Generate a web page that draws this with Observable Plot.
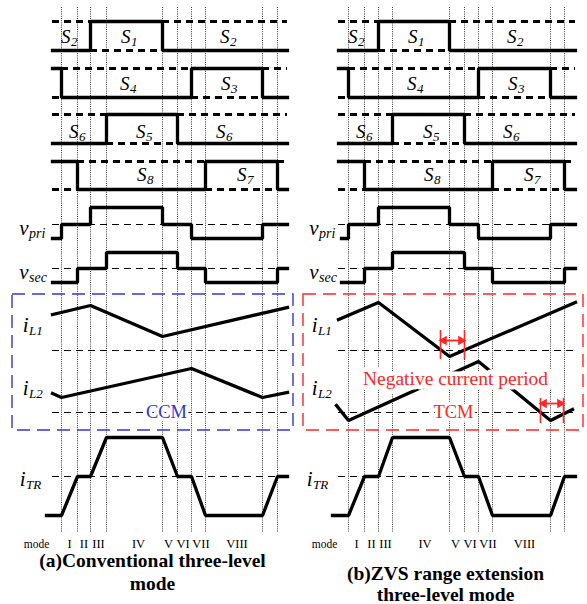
<!DOCTYPE html>
<html><head><meta charset="utf-8">
<script src="https://cdn.jsdelivr.net/npm/d3@7"></script>
<script src="https://cdn.jsdelivr.net/npm/@observablehq/plot@0.6"></script>
<style>
body{margin:0;background:#fff;}
#wrap{display:flex;width:587px;height:604px;overflow:hidden;}
#wrap svg{display:block;}
</style></head><body><div id="wrap"></div>
<script>
// ---------------- DATA ----------------
const modeNames = ["I","II","III","IV","V","VI","VII","VIII"];
// switching instants (time units) of the two panels
const timesA = [0,16,29,45,101,116,130,144,201,216];
const timesB = [0,16,30,44,101,116,130,144,202,216];
// gate signals: initial level and indices of switching instants where they toggle
const gateInit = [0,1,0,1];
const gateToggles = [[2,4],[0,6,8],[3,5],[1,7,9]];
const gateLabels = [
  [["S","2",9],["S","1",69],["S","2",168]],
  [["S","4",68],["S","3",169]],
  [["S","6",17],["S","5",84],["S","6",164]],
  [["S","8",85],["S","7",185]]
];
// three-level voltages: [instant index, new level]
const vpriInit = -1, vpriSteps = [[0,0],[2,1],[4,0],[6,-1],[8,0]];
const vsecInit = -1, vsecSteps = [[1,0],[3,1],[5,0],[7,-1],[9,0]];
// transformer current corners: [instant index, level]
const itrInit = -1, itrCorners = [[0,-1],[1,0],[2,0],[3,1],[4,1],[5,0],[6,0],[7,-1],[8,-1],[9,0]];
// inductor currents (time, value)
const iL1A_t = [-9,29,101,226],     iL1A_v = [36,45,14,43];
const iL2A_t = [-9,0,130,201,226],  iL2A_v = [19,15,44,15,20];
const iL1B_t = [-10,30,101,227],    iL1B_v = [31,48,-6,48];
const iL2B_t = [-12,0,130,202,224], iL2B_v = [7,-8,51,-8,3];
// negative current period markers (start, end time)
const negPeriods = [[92,116],[192,215]];

// ---------------- LAYOUT ----------------
const GATE_ROWS = [{lo:50,hi:21,ly:36},{lo:97,hi:68,ly:83},{lo:143,hi:114,ly:131},{lo:189,hi:161,ly:174}];
const VPRI = {mid:224, hi:207, lo:238, ly:228};
const VSEC = {mid:268, hi:252, lo:282, ly:272};
const IL1 = {zero:350, ly:325};
const IL2 = {zero:412, ly:388};
const ITR = {mid:476, hi:437, lo:515, ly:479};
const MODE_NUDGE = [0,0,0,4,-1.5,-1.5,2.5,3];
const SERIF = "Liberation Serif, Times New Roman, serif";
const RED = "#ff2626", BLUE = "#3434d2";

function steps(init, changes, t0, t1) {
  const pts = [{t:t0, l:init}], iv = [];
  let cur = init, a = t0;
  for (const [t, l] of changes) {
    pts.push({t, l:cur}); pts.push({t, l});
    iv.push({a, b:t, l:cur});
    cur = l; a = t;
  }
  pts.push({t:t1, l:cur});
  iv.push({a, b:t1, l:cur});
  return {pts, iv};
}
const lev3 = (row, l) => l > 0 ? row.hi : l < 0 ? row.lo : row.mid;

function subLabel(items, opts) {
  const base = {fontFamily: SERIF, fontStyle: "italic", fill: "#000"};
  return [
    Plot.text(items, {...base, x:"t", y:"y", text:"main", textAnchor:"end", fontSize: opts.main}),
    Plot.text(items, {...base, x:"t", y:"y", text:"sub", textAnchor:"start", fontSize: opts.sub, dy: opts.dy, dx: 0.5})
  ];
}

function panel(cfg) {
  const T = cfg.times;
  const marks = [];
  const thick = {stroke:"#000", strokeWidth:3.3, strokeLinejoin:"miter", strokeLinecap:"square"};
  const midDash = {stroke:"#000", strokeWidth:1.1, strokeDasharray:"7,5"};

  // dotted instants
  marks.push(Plot.ruleX(T, {x: d => d, y1: 7, y2: 532, stroke:"#222", strokeWidth:0.9, strokeDasharray:"1,1.2"}));

  // gate rows
  gateInit.forEach((init, i) => {
    const row = GATE_ROWS[i];
    let l = init;
    const ch = gateToggles[i].map(k => { l = 1 - l; return [T[k], l]; });
    const s = steps(init, ch, cfg.tStart, cfg.tEnd);
    marks.push(Plot.ruleY(s.iv, {y: d => d.l ? row.lo : row.hi, x1:"a", x2:"b", stroke:"#000", strokeWidth:3, strokeDasharray:"7,5"}));
    marks.push(Plot.line(s.pts, {x:"t", y: d => d.l ? row.hi : row.lo, ...thick}));
    marks.push(...subLabel(gateLabels[i].map(([m, sb, t]) => ({main:m, sub:sb, t, y:row.ly})), {main:19, sub:13, dy:5}));
  });

  // voltages
  for (const [row, init, st, name] of [[VPRI, vpriInit, vpriSteps, "pri"], [VSEC, vsecInit, vsecSteps, "sec"]]) {
    marks.push(Plot.ruleY([row.mid], {y: d => d, x1: cfg.tStart, x2: cfg.tEnd, ...midDash}));
    const s = steps(init, st.map(([k, l]) => [T[k], l]), cfg.vStart, cfg.tEnd);
    marks.push(Plot.line(s.pts, {x:"t", y: d => lev3(row, d.l), ...thick}));
    marks.push(...subLabel([{main:"v", sub:name, t:cfg.labelV, y:row.ly}], {main:21, sub:14, dy:5}));
  }

  // regime box
  marks.push(Plot.rect([cfg.box], {x1:"x1", x2:"x2", y1:"y1", y2:"y2", fill:"none", stroke:cfg.boxColor, strokeWidth:1.4, strokeDasharray:"13,7"}));

  // inductor currents
  marks.push(Plot.ruleY([IL1.zero, IL2.zero], {y: d => d, x1: cfg.tStart, x2: cfg.tEnd, ...midDash}));
  const il1 = cfg.iL1t.map((t, j) => ({t, v: cfg.iL1v[j]}));
  const il2 = cfg.iL2t.map((t, j) => ({t, v: cfg.iL2v[j]}));
  marks.push(Plot.line(il1, {x:"t", y: d => IL1.zero - d.v, ...thick}));
  marks.push(Plot.line(il2, {x:"t", y: d => IL2.zero - d.v, ...thick}));
  marks.push(...subLabel([{main:"i", sub:"L1", t:cfg.labelI, y:IL1.ly}, {main:"i", sub:"L2", t:cfg.labelI, y:IL2.ly}], {main:21, sub:13, dy:5}));

  // regime label with white halo
  const reg = [{text: cfg.regime, t: cfg.regimeT, y: IL2.zero}];
  marks.push(Plot.text(reg, {x:"t", y:"y", text:"text", fontFamily:SERIF, fontSize:18.5, fill:"white", stroke:"white", strokeWidth:7}));
  marks.push(Plot.text(reg, {x:"t", y:"y", text:"text", fontFamily:SERIF, fontSize:18.5, fill:cfg.boxColor}));

  // negative current markers
  if (cfg.neg) {
    const note = [{text:"Negative current period", t:107, y:378}];
    marks.push(Plot.text(note, {x:"t", y:"y", text:"text", fontFamily:SERIF, fontSize:19.5, fill:"white", stroke:"white", strokeWidth:9}));
    marks.push(Plot.text(note, {x:"t", y:"y", text:"text", fontFamily:SERIF, fontSize:19.5, fill:RED}));
    const mk = negPeriods.map(([a, b], j) => ({a, b, y1: j ? 398 : 330, y2: j ? 423 : 359, ya: j ? 403 : 340}));
    marks.push(Plot.ruleX(mk.flatMap(d => [{x:d.a, ...d}, {x:d.b, ...d}]), {x:"x", y1:"y1", y2:"y2", stroke:RED, strokeWidth:1.6}));
    marks.push(Plot.ruleY(mk, {y:"ya", x1: d => d.a + 2, x2: d => d.b - 2, stroke:RED, strokeWidth:1.8}));
    marks.push(Plot.dot(mk, {x: d => d.a + 3.5, y:"ya", symbol:"triangle", r:3.6, fill:RED, rotate:-90}));
    marks.push(Plot.dot(mk, {x: d => d.b - 3.5, y:"ya", symbol:"triangle", r:3.6, fill:RED, rotate:90}));
  }

  // transformer current
  marks.push(Plot.ruleY([ITR.mid], {y: d => d, x1: cfg.tStart, x2: cfg.tEnd, ...midDash}));
  const tr = [{t: cfg.trStart, l: itrInit}, ...itrCorners.map(([k, l]) => ({t: T[k], l})), {t: cfg.tEnd, l: 0}];
  marks.push(Plot.line(tr, {x:"t", y: d => lev3(ITR, d.l), ...thick}));
  marks.push(...subLabel([{main:"i", sub:"TR", t:cfg.labelTR, y:ITR.ly}], {main:21, sub:13, dy:5}));

  // mode row
  const modes = modeNames.map((m, j) => ({m, t: (T[j] + T[j+1]) / 2 + MODE_NUDGE[j]}));
  marks.push(Plot.text(modes, {x:"t", y: 543, text:"m", fontFamily:SERIF, fontSize:12.5, fill:"#000"}));
  marks.push(Plot.text(["mode"], {x: cfg.modeT, y: 544, text: d => d, fontFamily:SERIF, fontSize:11.5, fill:"#000"}));

  // title
  marks.push(Plot.text(cfg.title, {x: cfg.titleT, y: (d, j) => cfg.titleY[j], text: d => d, fontFamily:SERIF, fontWeight:"bold", fontSize:19.5, fill:"#000"}));

  return Plot.plot({
    width: cfg.width, height: 604,
    marginTop:0, marginBottom:0, marginLeft:0, marginRight:0,
    x: {domain:[-cfg.x0, cfg.width - cfg.x0], range:[0, cfg.width], axis:null},
    y: {domain:[0, 604], range:[0, 604], axis:null},
    style: {background:"white", overflow:"visible"},
    marks
  });
}

const wrap = document.getElementById("wrap");
wrap.appendChild(panel({
  times: timesA, x0:61, width:295, tStart:-9, tEnd:226, vStart:-9, trStart:-15,
  iL1t: iL1A_t, iL1v: iL1A_v, iL2t: iL2A_t, iL2v: iL2A_v,
  box:{x1:-49, x2:232, y1:294, y2:430}, boxColor: BLUE, regime:"CCM", regimeT:105,
  labelV:-33, labelI:-33, labelTR:-36, modeT:-25,
  title:["(a)Conventional three-level","mode"], titleT:91, titleY:[560,583], neg:false
}));
wrap.appendChild(panel({
  times: timesB, x0:53, width:292, tStart:-10, tEnd:227, vStart:-7, trStart:-16,
  iL1t: iL1B_t, iL1v: iL1B_v, iL2t: iL2B_t, iL2v: iL2B_v,
  box:{x1:-45, x2:235, y1:294, y2:430}, boxColor: RED, regime:"TCM", regimeT:105,
  labelV:-30, labelI:-31, labelTR:-36, modeT:-24,
  title:["(b)ZVS range extension","three-level mode"], titleT:97, titleY:[573,594], neg:true
}));
</script>
</body></html>
